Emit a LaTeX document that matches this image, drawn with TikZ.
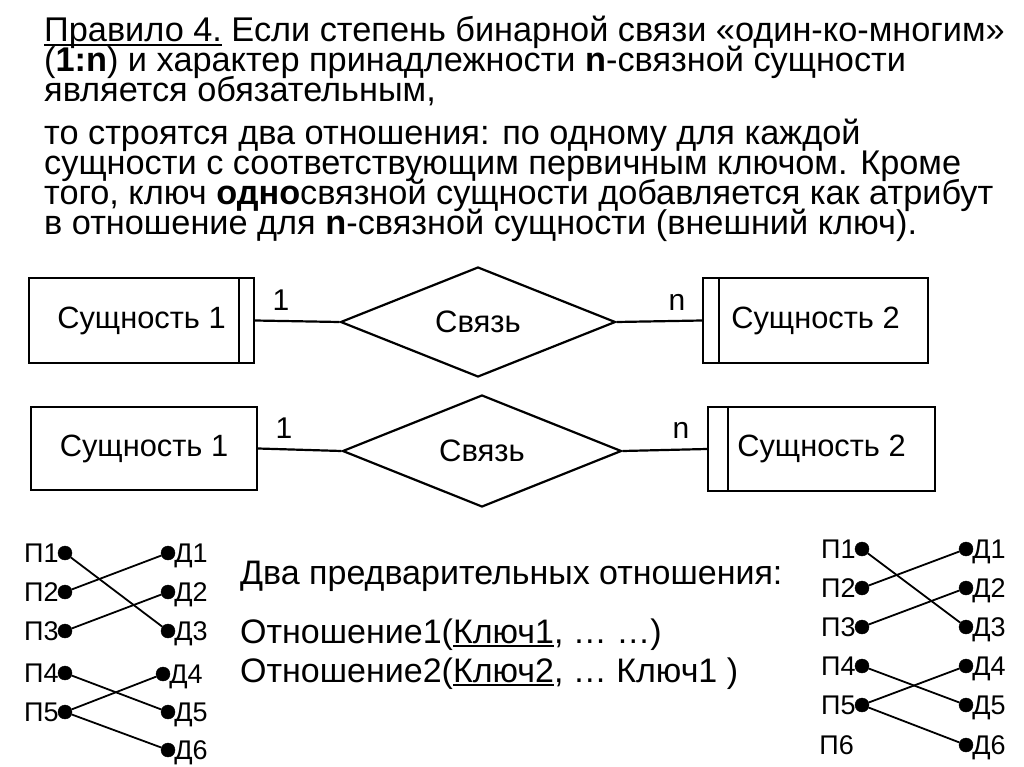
\documentclass[tikz,border=0pt]{standalone}
\usepackage{fontspec}
\setmainfont{Liberation Sans}
\usetikzlibrary{shapes.geometric}

\newcommand\ulbase[1]{\setbox0\hbox{#1}\rlap{\rule[-3.6pt]{\wd0}{1.6pt}}\box0\relax}

\tikzset{
  txt/.style={anchor=base west, inner sep=0pt, font=\fontsize{34.3}{30}\selectfont},
  entity/.style={draw, line width=2.2pt, rectangle, inner sep=0pt, font=\fontsize{30.8}{30}\selectfont},
  rel/.style={draw, line width=2.2pt, diamond, inner sep=0pt, font=\fontsize{31}{30}\selectfont},
  card/.style={anchor=base, inner sep=0pt, font=\fontsize{30}{30}\selectfont},
  conn/.style={line width=2.2pt},
  bullet/.style={circle, fill=black, draw=black, inner sep=0pt, minimum size=14pt},
  pl/.style={label={[inner sep=0pt, text depth=0pt, label distance=-1pt, font=\fontsize{27}{27}\selectfont]left:#1}},
  dl/.style={label={[inner sep=0pt, text depth=0pt, label distance=-1pt, font=\fontsize{27}{27}\selectfont]right:#1}},
  link/.style={line width=1.8pt}
}

\begin{document}
\begin{tikzpicture}[x=1pt,y=-1pt]
\useasboundingbox[fill=white] (0,0) rectangle (1024,767);

% rule text
\node[txt] (r1) at (44,42) {\ulbase{Правило 4.} Если степень бинарной связи «один-ко-многим»};
\node[txt] (r2) at (44,72) {(\textbf{1:n}) и характер принадлежности \textbf{n}-связной сущности};
\node[txt] (r3) at (44,102) {является обязательным,};
\node[txt] (r4) at (44,145) {то строятся два отношения: по одному для каждой};
\node[txt] (r5) at (44,175) {сущности с соответствующим первичным ключом. Кроме};
\node[txt] (r6) at (44,205) {того, ключ \textbf{одно}связной сущности добавляется как атрибут};
\node[txt] (r7) at (44,235) {в отношение для \textbf{n}-связной сущности (внешний ключ).};

% first ER diagram
\node[entity, minimum width=225pt, minimum height=85pt] (ea) at (141.5,320.5) {\raisebox{-3pt}{Сущность 1}};
\node[rel, minimum width=275pt, minimum height=110pt] (ra) at (478,322) {\raisebox{-3pt}{Связь}};
\node[entity, minimum width=225pt, minimum height=85pt] (eb) at (815.5,320.5) {\raisebox{-3pt}{Сущность 2}};
\draw[conn] ([xshift=-16pt]ea.north east) -- ([xshift=-16pt]ea.south east);
\draw[conn] ([xshift=17pt]eb.north west) -- ([xshift=17pt]eb.south west);
\draw[conn] (ea.east) -- (ra.west);
\draw[conn] (ra.east) -- (eb.west);
\node[card] (ca1) at (281,310) {1};
\node[card] (ca2) at (677,310) {n};

% second ER diagram
\node[entity, minimum width=226pt, minimum height=83pt] (ec) at (144,448.5) {\raisebox{-2pt}{Сущность 1}};
\node[rel, minimum width=279pt, minimum height=112pt] (rb) at (482,451) {\raisebox{-3pt}{Связь}};
\node[entity, minimum width=227pt, minimum height=84pt] (ed) at (821.5,449) {\raisebox{-1pt}{Сущность 2}};
\draw[conn] ([xshift=21pt]ed.north west) -- ([xshift=21pt]ed.south west);
\draw[conn] (ec.east) -- (rb.west);
\draw[conn] (rb.east) -- (ed.west);
\node[card] (cb1) at (284,438) {1};
\node[card] (cb2) at (681,438) {n};

% relations text
\node[txt, font=\fontsize{34}{30}\selectfont] (t1) at (240,584) {Два предварительных отношения:};
\node[txt, font=\fontsize{34}{30}\selectfont] (t2) at (240,643) {Отношение1(\ulbase{Ключ1}, … …)};
\node[txt, font=\fontsize{34}{30}\selectfont] (t3) at (240,682) {Отношение2(\ulbase{Ключ2}, … Ключ1 )};

% left mapping
\node[bullet, pl=П1] (lp1) at (65,553) {};
\node[bullet, pl=П2] (lp2) at (65,592) {};
\node[bullet, pl=П3] (lp3) at (65,631) {};
\node[bullet, pl=П4] (lp4) at (65,673) {};
\node[bullet, pl=П5] (lp5) at (65,712) {};
\node[bullet, dl=Д1] (ld1) at (168,553) {};
\node[bullet, dl=Д2] (ld2) at (168,592) {};
\node[bullet, dl=Д3] (ld3) at (168,631) {};
\node[bullet, dl=Д4] (ld4) at (163,674) {};
\node[bullet, dl=Д5] (ld5) at (168,712) {};
\node[bullet, dl=Д6] (ld6) at (168,750) {};
\draw[link] (lp1) -- (ld3);
\draw[link] (lp2) -- (ld1);
\draw[link] (lp3) -- (ld2);
\draw[link] (lp4) -- (ld5);
\draw[link] (lp5) -- (ld4);
\draw[link] (lp5) -- (ld6);

% right mapping
\node[bullet, pl=П1] (rp1) at (862,549) {};
\node[bullet, pl=П2] (rp2) at (862,588) {};
\node[bullet, pl=П3] (rp3) at (862,627) {};
\node[bullet, pl=П4] (rp4) at (862,666) {};
\node[bullet, pl=П5] (rp5) at (862,705) {};
\node[anchor=east, inner sep=0pt, text depth=0pt, font=\fontsize{27}{27}\selectfont] (rp6) at (854,745) {П6};
\node[bullet, dl=Д1] (rd1) at (966,549) {};
\node[bullet, dl=Д2] (rd2) at (966,588) {};
\node[bullet, dl=Д3] (rd3) at (966,627) {};
\node[bullet, dl=Д4] (rd4) at (966,666) {};
\node[bullet, dl=Д5] (rd5) at (966,705) {};
\node[bullet, dl=Д6] (rd6) at (966,745) {};
\draw[link] (rp1) -- (rd3);
\draw[link] (rp2) -- (rd1);
\draw[link] (rp3) -- (rd2);
\draw[link] (rp4) -- (rd5);
\draw[link] (rp5) -- (rd4);
\draw[link] (rp5) -- (rd6);
\end{tikzpicture}
\end{document}
